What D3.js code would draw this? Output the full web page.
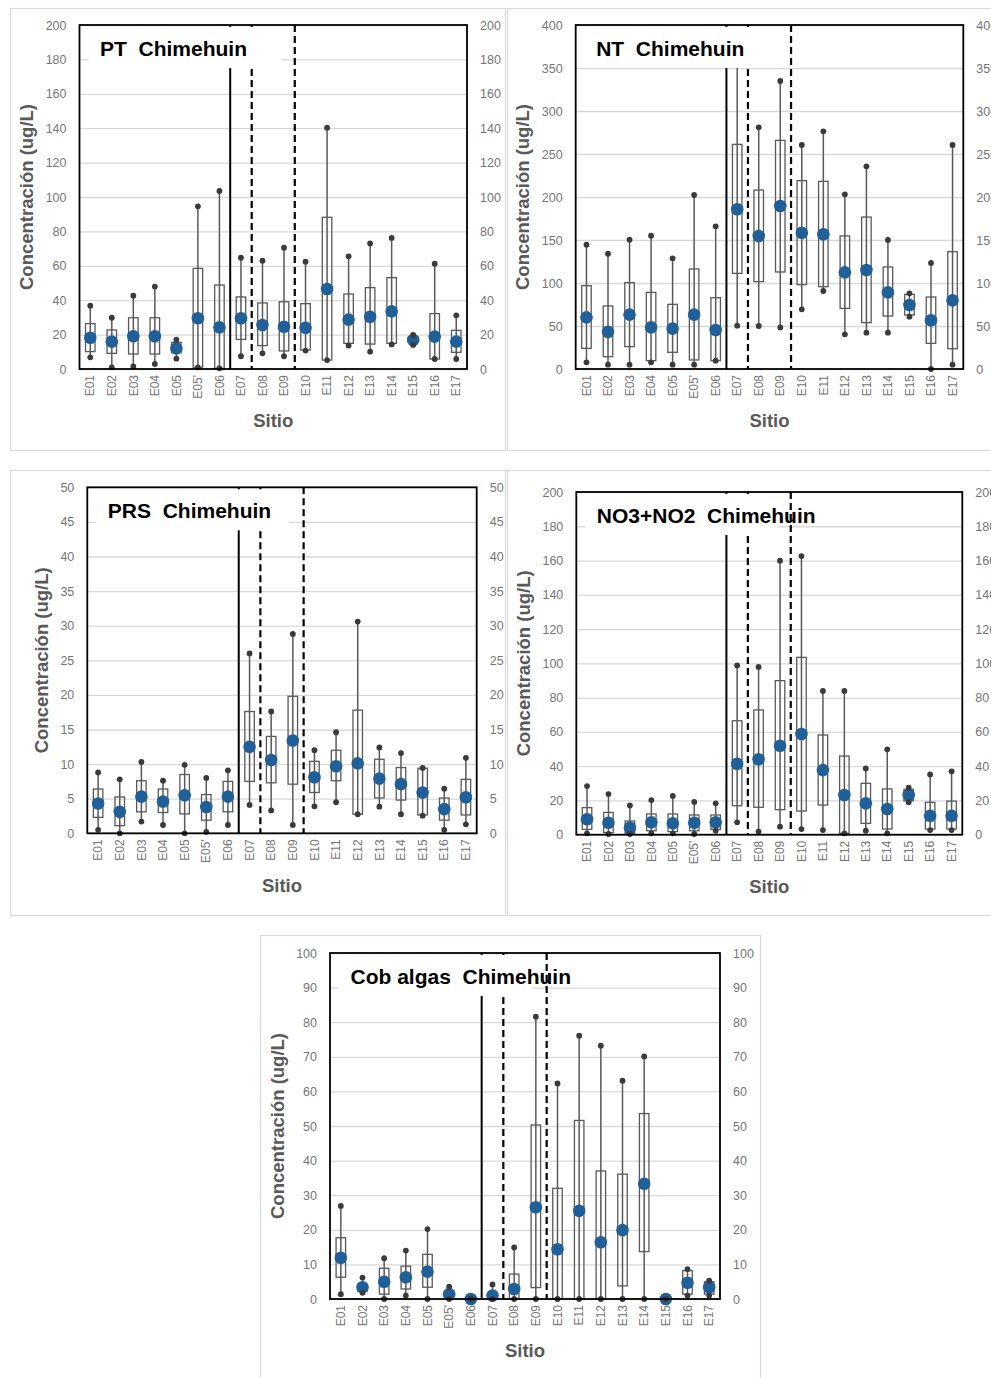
<!DOCTYPE html>
<html>
<head>
<meta charset="utf-8">
<script src="https://cdn.jsdelivr.net/npm/d3@7"></script>
<style>
body { margin: 0; background: #fff; }
svg { display: block; font-family: "Liberation Sans", Arial, sans-serif; }
</style>
</head>
<body>
<div id="chart"></div>
<script>
// Sites (x categories)
var sites = ["E01", "E02", "E03", "E04", "E05", "E05'", "E06", "E07", "E08", "E09",
             "E10", "E11", "E12", "E13", "E14", "E15", "E16", "E17"];

// PT
var ptMin = [6.8, 1.0, 1.5, 2.9, 6.0, 1.0, 0.4, 7.4, 9.1, 7.4, 10.7, 5.2, 13.6, 10.1, 14.3, 14.0, 5.8, 5.8];
var ptQ1  = [10.1, 9.1, 8.7, 8.7, 9.5, 1.0, 0.4, 17.2, 13.6, 10.5, 11.0, 5.2, 14.9, 14.5, 14.9, 15.5, 5.8, 9.7];
var ptMid = [18.2, 15.9, 19.0, 19.0, 12.0, 29.5, 24.2, 29.5, 25.6, 24.6, 24.0, 46.5, 28.7, 30.4, 33.5, 16.9, 18.8, 15.9];
var ptQ3  = [26.4, 22.7, 29.8, 29.8, 15.5, 58.5, 48.8, 41.9, 38.4, 39.1, 38.0, 88.2, 43.6, 47.3, 53.1, 18.8, 32.2, 22.5];
var ptMax = [36.8, 29.8, 42.6, 47.9, 17.0, 94.6, 103.5, 64.7, 63.0, 70.5, 62.4, 140.3, 65.5, 73.0, 76.2, 19.8, 61.2, 31.2];
var ptTicks = [0, 20, 40, 60, 80, 100, 120, 140, 160, 180, 200];

// NT
var ntMin = [7.8, 5.0, 5.0, 7.8, 5.0, 5.0, 9.7, 50.4, 50.0, 48.4, 69.4, 90.7, 40.3, 42.2, 42.2, 60.9, 0, 5.0];
var ntQ1  = [24.0, 14.3, 26.0, 9.7, 19.4, 10.5, 9.7, 111.2, 101.6, 112.8, 98.1, 95.7, 70.5, 53.9, 61.6, 62.8, 29.8, 23.6];
var ntMid = [60.0, 43.4, 63.2, 48.4, 46.9, 63.2, 45.3, 185.7, 154.7, 189.5, 158.5, 156.6, 112.4, 115.1, 89.1, 74.4, 56.6, 79.8];
var ntQ3  = [96.9, 73.3, 100.4, 89.1, 75.2, 116.3, 82.9, 261.2, 208.1, 265.9, 219.0, 218.2, 154.7, 176.7, 118.6, 86.8, 83.7, 136.4];
var ntMax = [144.6, 134.0, 150.4, 155.0, 128.7, 202.3, 165.9, 390.0, 281.0, 334.9, 260.5, 276.4, 203.1, 235.7, 150.0, 88.0, 123.3, 260.5];
var ntTicks = [0, 50, 100, 150, 200, 250, 300, 350, 400];

// PRS
var prsMin = [0.5, 0, 1.7, 1.2, 0, 0.2, 1.2, 4.1, 3.3, 1.2, 3.9, 4.5, 2.75, 3.85, 2.75, 2.55, 0.5, 1.3];
var prsQ1  = [2.3, 1.1, 3.1, 3.0, 2.8, 1.9, 3.1, 7.5, 7.3, 7.1, 5.9, 7.6, 2.75, 5.1, 4.8, 2.65, 1.9, 2.65];
var prsMid = [4.3, 3.1, 5.3, 4.6, 5.5, 3.8, 5.3, 12.5, 10.6, 13.4, 8.1, 9.7, 10.1, 7.9, 7.1, 5.9, 3.5, 5.2];
var prsQ3  = [6.4, 5.25, 7.6, 6.4, 8.5, 5.6, 7.5, 17.6, 14.0, 19.8, 10.4, 12.0, 17.8, 10.7, 9.5, 9.4, 5.1, 7.8];
var prsMax = [8.8, 7.8, 10.3, 7.6, 9.9, 8.0, 9.1, 26.0, 17.6, 28.8, 12.0, 14.6, 30.6, 12.4, 11.6, 9.45, 6.45, 10.9];
var prsTicks = [0, 5, 10, 15, 20, 25, 30, 35, 40, 45, 50];

// NO3+NO2
var noMin = [0.8, 0.4, 0.4, 0.8, 0.8, 0.4, 2.3, 7.2, 1.8, 4.7, 3.3, 2.7, 0.8, 2.3, 0.8, 18.9, 2.7, 2.7];
var noQ1  = [3.1, 1.2, 0.8, 2.3, 1.8, 2.3, 3.1, 16.9, 16.0, 14.6, 13.8, 17.3, 0.8, 6.6, 3.3, 19.8, 3.3, 3.3];
var noMid = [9.0, 7.0, 4.1, 7.2, 6.6, 7.0, 7.2, 41.4, 44.0, 51.9, 58.8, 37.7, 23.2, 18.3, 15.0, 23.2, 11.1, 11.1];
var noQ3  = [15.8, 13.0, 8.0, 12.1, 12.1, 11.5, 11.5, 66.5, 72.8, 89.9, 103.5, 58.2, 45.9, 30.0, 26.7, 26.5, 18.9, 19.6];
var noMax = [28.4, 23.7, 17.1, 20.2, 22.6, 19.1, 18.3, 98.8, 97.9, 159.9, 162.6, 83.9, 83.9, 38.7, 49.8, 27.4, 35.2, 37.0];
var noTicks = [0, 20, 40, 60, 80, 100, 120, 140, 160, 180, 200];

// Cob algas
var cobMin = [1.4, 1.8, 0, 1.0, 0, 0, 0, 0, 0, 0, 0, 0, 0, 0, 0, 0, 1.0, 1.0];
var cobQ1  = [6.3, 2.3, 1.4, 2.9, 3.4, 0.7, 0, 0.2, 0, 3.3, 0, 0, 0, 3.8, 13.7, 0, 1.4, 1.4];
var cobMid = [11.9, 3.4, 5.0, 6.3, 7.9, 1.4, 0, 1.0, 2.9, 26.5, 14.4, 25.5, 16.4, 19.9, 33.3, 0, 4.7, 3.4];
var cobQ3  = [17.7, 4.2, 8.9, 9.5, 12.9, 2.3, 0, 1.6, 7.2, 50.3, 32.0, 51.6, 37.0, 36.1, 53.6, 0, 8.2, 5.0];
var cobMax = [26.9, 6.2, 11.8, 14.0, 20.2, 3.6, 0, 4.2, 14.9, 81.6, 62.3, 76.1, 73.2, 63.1, 70.1, 0, 8.6, 5.3];
var cobTicks = [0, 10, 20, 30, 40, 50, 60, 70, 80, 90, 100];

// Panel layouts
var panels = [
    {title: "PT  Chimehuin", frame: [10, 8, 495, 442], left: 79.5, right: 467, top: 25, bottom: 369, yTitleX: 27,
     ticks: ptTicks, min: ptMin, q1: ptQ1, mid: ptMid, q3: ptQ3, max: ptMax},
    {title: "NT  Chimehuin", frame: [507, 8, 490, 442], left: 575.7, right: 963.3, top: 25, bottom: 369, yTitleX: 523,
     ticks: ntTicks, min: ntMin, q1: ntQ1, mid: ntMid, q3: ntQ3, max: ntMax},
    {title: "PRS  Chimehuin", frame: [10, 470, 495, 445], left: 87.3, right: 476.7, top: 487.3, bottom: 833.3, yTitleX: 42,
     ticks: prsTicks, min: prsMin, q1: prsQ1, mid: prsMid, q3: prsQ3, max: prsMax},
    {title: "NO3+NO2  Chimehuin", frame: [507, 470, 490, 445], left: 576.3, right: 962.3, top: 492, bottom: 834.7, yTitleX: 524,
     ticks: noTicks, min: noMin, q1: noQ1, mid: noMid, q3: noQ3, max: noMax},
    {title: "Cob algas  Chimehuin", frame: [260, 935, 500, 445], left: 330, right: 720, top: 953, bottom: 1299, yTitleX: 278,
     ticks: cobTicks, min: cobMin, q1: cobQ1, mid: cobMid, q3: cobQ3, max: cobMax}
];

var svg = d3.select("#chart")
    .append("svg")
    .attr("width", 991)
    .attr("height", 1378);

svg.append("rect")
    .attr("width", 991)
    .attr("height", 1378)
    .attr("fill", "#fff");

panels.forEach(function(p) {
    var g = svg.append("g");

    // light panel border
    g.append("rect")
        .attr("x", p.frame[0] + 0.5)
        .attr("y", p.frame[1] + 0.5)
        .attr("width", p.frame[2])
        .attr("height", p.frame[3])
        .attr("fill", "none")
        .attr("stroke", "#d9d9d9")
        .attr("stroke-width", 1.2);

    var x = d3.scaleBand()
        .domain(sites)
        .range([p.left, p.right]);

    var y = d3.scaleLinear()
        .domain([0, d3.max(p.ticks)])
        .range([p.bottom, p.top]);

    var w = p.right - p.left;
    var bw = 9.5;
    var cx = function(i) { return x(sites[i]) + x.bandwidth() / 2; };

    // gridlines
    g.append("g")
        .attr("transform", `translate(${p.left},0)`)
        .call(d3.axisLeft(y).tickValues(p.ticks).tickSize(-w).tickFormat(""))
        .call(s => s.select(".domain").remove())
        .call(s => s.selectAll("line").attr("stroke", "#d9d9d9").attr("stroke-width", 1.3));

    // left tick labels
    g.append("g")
        .attr("transform", `translate(${p.left},0)`)
        .call(d3.axisLeft(y).tickValues(p.ticks).tickSize(0).tickPadding(13))
        .call(s => s.select(".domain").remove())
        .call(s => s.selectAll("text").attr("fill", "#767676").attr("font-size", "12.5px")
            .attr("font-family", "'Liberation Sans', Arial, sans-serif"));

    // right tick labels
    g.append("g")
        .attr("transform", `translate(${p.right},0)`)
        .call(d3.axisRight(y).tickValues(p.ticks).tickSize(0).tickPadding(13))
        .call(s => s.select(".domain").remove())
        .call(s => s.selectAll("text").attr("fill", "#767676").attr("font-size", "12.5px")
            .attr("font-family", "'Liberation Sans', Arial, sans-serif"));

    // x tick labels (rotated)
    g.append("g")
        .attr("transform", `translate(0,${p.bottom})`)
        .call(d3.axisBottom(x).tickSize(0).tickPadding(0))
        .call(s => s.select(".domain").remove())
        .call(s => s.selectAll("text")
            .attr("transform", "rotate(-90)")
            .attr("text-anchor", "end")
            .attr("x", -6)
            .attr("y", 0)
            .attr("dy", "0.35em")
            .attr("fill", "#767676")
            .attr("font-size", "12px")
            .attr("font-family", "'Liberation Sans', Arial, sans-serif"));

    // divider lines
    g.append("line")
        .attr("x1", x("E07")).attr("x2", x("E07"))
        .attr("y1", p.top).attr("y2", p.bottom)
        .attr("stroke", "#000").attr("stroke-width", 2);
    [x("E08"), x("E10")].forEach(function(xv) {
        g.append("line")
            .attr("x1", xv).attr("x2", xv)
            .attr("y1", p.top).attr("y2", p.bottom)
            .attr("stroke", "#000").attr("stroke-width", 2.2)
            .attr("stroke-dasharray", "7,4");
    });

    // whiskers
    g.append("g").selectAll("line")
        .data(sites)
        .enter()
        .append("line")
        .attr("x1", (d, i) => cx(i)).attr("x2", (d, i) => cx(i))
        .attr("y1", (d, i) => y(p.min[i])).attr("y2", (d, i) => y(p.max[i]))
        .attr("stroke", "#595959").attr("stroke-width", 1.5);

    // boxes
    g.append("g").selectAll("rect")
        .data(sites)
        .enter()
        .append("rect")
        .attr("x", (d, i) => cx(i) - bw / 2)
        .attr("width", bw)
        .attr("y", (d, i) => y(p.q3[i]))
        .attr("height", (d, i) => Math.max(0.5, y(p.q1[i]) - y(p.q3[i])))
        .attr("fill", "none")
        .attr("stroke", "#595959")
        .attr("stroke-width", 1.3);

    // mean dots
    g.append("g").selectAll("circle")
        .data(sites)
        .enter()
        .append("circle")
        .attr("cx", (d, i) => cx(i))
        .attr("cy", (d, i) => y(p.mid[i]))
        .attr("r", 6.3)
        .attr("fill", "#215f98");

    // whisker end dots
    var ends = g.append("g");
    sites.forEach(function(d, i) {
        [p.min[i], p.max[i]].forEach(function(v) {
            ends.append("circle")
                .attr("cx", cx(i))
                .attr("cy", y(v))
                .attr("r", 2.9)
                .attr("fill", "#3a3a3a");
        });
    });

    // title box
    g.append("rect")
        .attr("x", p.left + 9)
        .attr("y", p.top + 2)
        .attr("width", 193)
        .attr("height", 41)
        .attr("fill", "#fff");

    g.append("text")
        .attr("x", p.left + 20.5)
        .attr("y", p.top + 31)
        .attr("font-size", "21px")
        .attr("font-weight", "bold")
        .attr("fill", "#000")
        .attr("xml:space", "preserve")
        .style("white-space", "pre")
        .text(p.title);

    // plot frame
    g.append("rect")
        .attr("x", p.left)
        .attr("y", p.top)
        .attr("width", w)
        .attr("height", p.bottom - p.top)
        .attr("fill", "none")
        .attr("stroke", "#000")
        .attr("stroke-width", 1.8);

    // axis titles
    g.append("text")
        .attr("transform", `translate(${p.yTitleX}, ${(p.top + p.bottom) / 2}) rotate(-90)`)
        .attr("text-anchor", "middle")
        .attr("dy", "0.35em")
        .attr("font-size", "18.5px")
        .attr("font-weight", "bold")
        .attr("fill", "#595959")
        .text("Concentración (ug/L)");

    g.append("text")
        .attr("x", (p.left + p.right) / 2)
        .attr("y", p.bottom + 52)
        .attr("text-anchor", "middle")
        .attr("dy", "0.35em")
        .attr("font-size", "18.5px")
        .attr("font-weight", "bold")
        .attr("fill", "#595959")
        .text("Sitio");
});
</script>
</body>
</html>
